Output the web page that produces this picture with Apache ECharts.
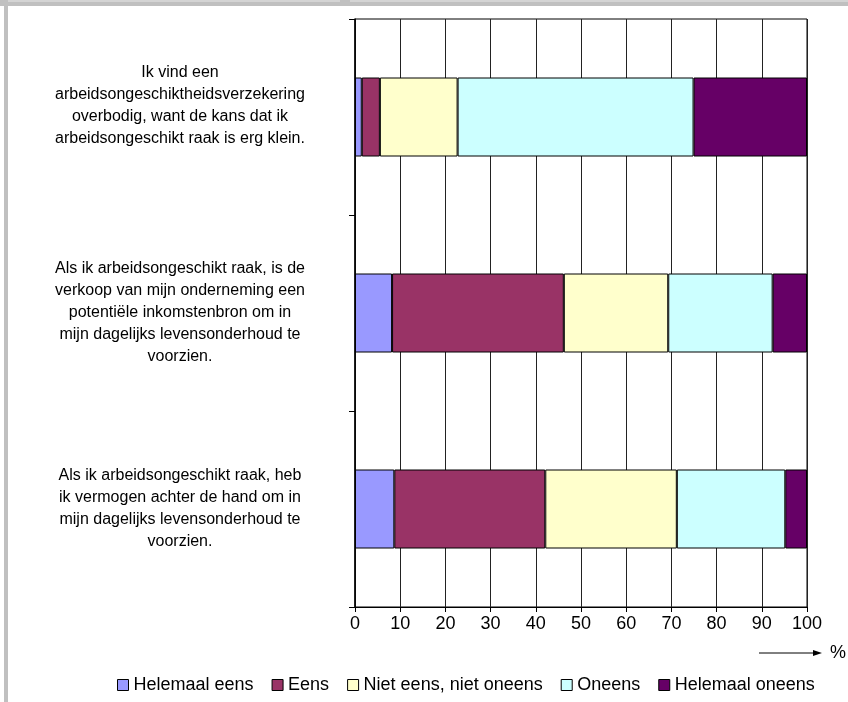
<!DOCTYPE html>
<html>
<head>
<meta charset="utf-8">
<script src="https://cdn.jsdelivr.net/npm/echarts@6/dist/echarts.min.js"></script>
<style>
  html, body { margin: 0; padding: 0; background: #fff; }
  #chart { width: 848px; height: 702px; }
</style>
</head>
<body>
<div id="chart"></div>
<script>
// Statements (top to bottom); line breaks follow the printed wrapping
var statements = [
  'Ik vind een\narbeidsongeschiktheidsverzekering\noverbodig, want de kans dat ik\narbeidsongeschikt raak is erg klein.\n',
  'Als ik arbeidsongeschikt raak, is de\nverkoop van mijn onderneming een\npotentiële inkomstenbron om in\nmijn dagelijks levensonderhoud te\nvoorzien.',
  'Als ik arbeidsongeschikt raak, heb\nik vermogen achter de hand om in\nmijn dagelijks levensonderhoud te\nvoorzien.'
];

// Answer categories (legend order)
var answers = ['Helemaal eens', 'Eens', 'Niet eens, niet oneens', 'Oneens', 'Helemaal oneens'];

// Share of respondents per answer, in %, one value per statement
var helemaalEens   = [1.5, 8.2, 8.7];
var eens           = [4.0, 38.0, 33.4];
var nietEensOneens = [17.2, 23.1, 29.1];
var oneens         = [52.2, 23.1, 24.0];
var helemaalOneens = [25.1, 7.6, 4.8];

// x-axis tick range
var xMin = 0, xMax = 100, xStep = 10;

var seriesValues = [helemaalEens, eens, nietEensOneens, oneens, helemaalOneens];
var colors = ['#9999FF', '#993366', '#FFFFCC', '#CCFFFF', '#660066'];

var FONT = '"Liberation Sans", Arial, sans-serif';

var chart = echarts.init(document.getElementById('chart'), null, { renderer: 'canvas' });

chart.setOption({
  animation: false,
  backgroundColor: '#ffffff',
  textStyle: { fontFamily: FONT, color: '#000' },
  grid: {
    left: 355, right: 41, top: 19, bottom: 95,
    show: true, borderColor: '#000', borderWidth: 1, backgroundColor: 'transparent'
  },
  xAxis: {
    type: 'value',
    min: xMin, max: xMax, interval: xStep,
    axisLine: { show: true, lineStyle: { color: '#000', width: 1 } },
    axisTick: { show: true, length: 5, lineStyle: { color: '#000' } },
    axisLabel: { fontSize: 18, color: '#000', margin: 8, fontFamily: FONT },
    splitLine: { show: true, lineStyle: { color: '#222', width: 1 } }
  },
  yAxis: {
    type: 'category',
    inverse: true,
    data: statements,
    axisLine: { show: true, lineStyle: { color: '#000', width: 1.5 } },
    axisTick: { show: true, length: 6, lineStyle: { color: '#000' } },
    axisLabel: {
      align: 'center', margin: 175, fontSize: 16, lineHeight: 22,
      color: '#000', fontFamily: FONT
    },
    splitLine: { show: false }
  },
  legend: {
    left: 112, top: 671,
    itemWidth: 11, itemHeight: 11, itemGap: 18,
    icon: 'rect',
    itemStyle: { borderColor: '#000', borderWidth: 1 },
    textStyle: { fontSize: 18, color: '#000', fontFamily: FONT },
    data: answers
  },
  series: answers.map(function (name, i) {
    return {
      name: name,
      type: 'bar',
      stack: 'total',
      barWidth: 79,
      data: seriesValues[i],
      itemStyle: { color: colors[i], borderColor: '#000', borderWidth: 1 },
      emphasis: { disabled: true }
    };
  }),
  graphic: [
    // window frame along the top and left edge
    { type: 'rect', shape: { x: 0, y: 0, width: 848, height: 6 }, style: { fill: '#c0c0c0' }, silent: true },
    { type: 'rect', shape: { x: 8, y: 0, width: 332, height: 2 }, style: { fill: '#d4d4d4' }, silent: true },
    { type: 'rect', shape: { x: 350, y: 0, width: 498, height: 2 }, style: { fill: '#d4d4d4' }, silent: true },
    { type: 'rect', shape: { x: 4, y: 0, width: 4, height: 702 }, style: { fill: '#c0c0c0' }, silent: true },
    // axis direction arrow with unit
    { type: 'line', shape: { x1: 759, y1: 653, x2: 816, y2: 653 }, style: { stroke: '#000', lineWidth: 1 }, silent: true },
    { type: 'polygon', shape: { points: [[822, 653], [813, 650], [813, 656]] }, style: { fill: '#000' }, silent: true },
    { type: 'text', x: 830, y: 653, style: { text: '%', font: '18px ' + FONT, fill: '#000', textVerticalAlign: 'middle' }, silent: true }
  ]
});
</script>
</body>
</html>
